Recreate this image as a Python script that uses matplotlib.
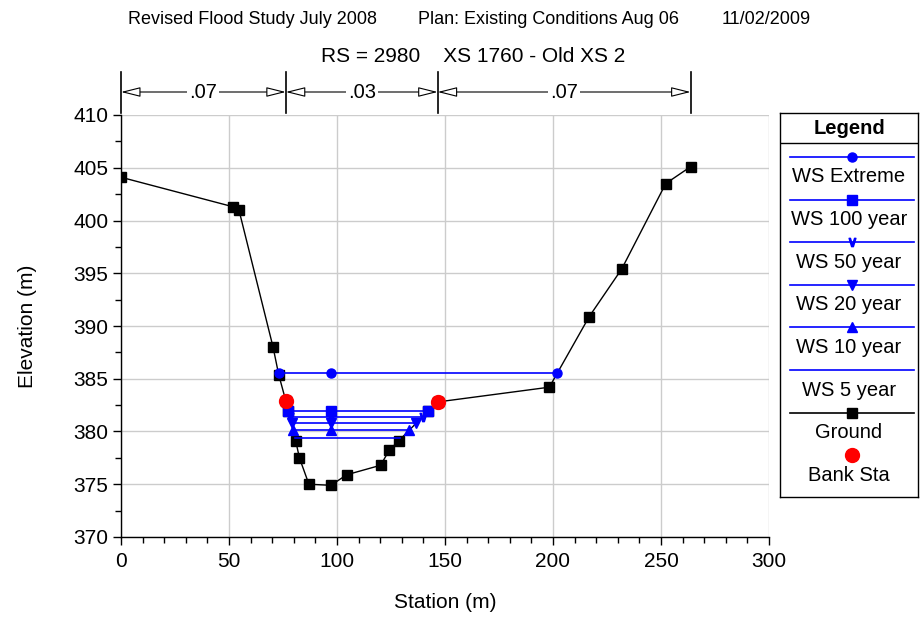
import matplotlib
matplotlib.use("Agg")
import matplotlib.pyplot as plt
from matplotlib.ticker import MultipleLocator
import matplotlib.transforms as mtransforms

plt.rcParams['font.family'] = ['Liberation Sans', 'DejaVu Sans']

# Ground survey points (station, elevation)
ground_sta = [0.0, 51.9, 54.6, 70.4, 73.0, 76.3, 77.5, 80.9, 82.6, 87.0, 97.2,
              104.5, 120.2, 124.1, 128.5, 142.3, 146.6, 198.3, 216.8, 231.8,
              252.2, 263.7]
ground_elev = [404.1, 401.3, 401.0, 388.0, 385.4, 382.9, 381.95, 379.1, 377.5,
               375.0, 374.9, 375.9, 376.8, 378.2, 379.1, 381.95, 382.8, 384.2,
               390.9, 395.4, 403.5, 405.1]

# Bank stations
bank_sta = [76.3, 146.6]
bank_elev = [382.9, 382.75]

# Water surface profiles: elevation, left edge, right edge
ws_names = ["WS Extreme", "WS 100 year", "WS 50 year", "WS 20 year",
            "WS 10 year", "WS 5 year"]
ws_elev = [385.5, 381.95, 381.4, 380.8, 380.1, 379.35]
ws_left = [73.0, 77.5, 78.2, 79.0, 79.6, 80.7]
ws_right = [202.0, 142.3, 139.8, 136.8, 133.3, 129.0]
ws_mid = 97.2
ws_markers = ['o', 's', r'$\vee$', 'v', '^', None]
ws_msize = [6.5, 6.5, 6, 7, 7, 0]

# Manning's n breaks
n_breaks = [0.0, 76.3, 146.6, 263.7]
n_values = [".07", ".03", ".07"]

# Header pieces
header = ["Revised Flood Study July 2008", "Plan: Existing Conditions Aug 06",
          "11/02/2009"]
subtitle = "RS = 2980    XS 1760 - Old XS 2"

W, H = 922, 621
fig = plt.figure(figsize=(W / 100, H / 100), dpi=100)
ax = fig.add_axes([121 / W, 1 - 537 / H, (769 - 121) / W, (537 - 115) / H])

ax.set_xlim(0, 300)
ax.set_ylim(370, 410)
ax.xaxis.set_major_locator(MultipleLocator(50))
ax.xaxis.set_minor_locator(MultipleLocator(10))
ax.yaxis.set_major_locator(MultipleLocator(5))
ax.yaxis.set_minor_locator(MultipleLocator(2.5))
ax.grid(True, which='major', color='#cccccc', linewidth=1)
ax.set_axisbelow(True)
for side in ('top', 'right'):
    ax.spines[side].set_visible(False)
for side in ('left', 'bottom'):
    ax.spines[side].set_linewidth(1)
ax.tick_params(which='major', direction='out', length=6, width=1, labelsize=15)
ax.tick_params(axis='x', which='major', pad=5)
ax.tick_params(axis='y', which='major', pad=3)
ax.tick_params(which='minor', direction='out', length=4, width=1)
ax.set_xlabel("Station (m)", fontsize=15, labelpad=16)
ax.set_ylabel("Elevation (m)", fontsize=15, labelpad=26)

blue = '#0000ff'
for name, e, xl, xr, mk, ms in zip(ws_names, ws_elev, ws_left, ws_right,
                                   ws_markers, ws_msize):
    ax.plot([xl, xr], [e, e], color=blue, lw=1.2, zorder=3)
    if mk is not None:
        ax.plot([xl, ws_mid, xr], [e, e, e], linestyle='none', marker=mk,
                color=blue, markersize=ms, zorder=4)

ax.plot(ground_sta, ground_elev, color='black', lw=1, marker='s',
        markersize=7.5, zorder=2)
ax.plot(bank_sta, bank_elev, linestyle='none', marker='o', color='red',
        markersize=10, zorder=5)

# Manning's n annotation above the plot
trans = mtransforms.blended_transform_factory(ax.transData, ax.transAxes)
y_top, y_bot, y_arr = 1.102, 1.005, 1.0545
for xb in n_breaks:
    ax.plot([xb, xb], [y_bot, y_top], color='black', lw=1.2, transform=trans,
            clip_on=False)
for i, val in enumerate(n_values):
    x0, x1 = n_breaks[i], n_breaks[i + 1]
    ax.annotate("", xy=(x0, y_arr), xytext=(x1, y_arr), xycoords=trans,
                textcoords=trans,
                arrowprops=dict(arrowstyle='<|-|>,head_length=1.0,head_width=0.25',
                                facecolor='white', edgecolor='black', lw=0.8,
                                shrinkA=0, shrinkB=0, mutation_scale=12))
    ax.text((x0 + x1) / 2, y_arr, val, transform=trans, ha='center',
            va='center', fontsize=14.5,
            bbox=dict(facecolor='white', edgecolor='none', pad=1.5))

for xp, txt in zip([128, 418, 722], header):
    fig.text(xp / W, 1 - 19 / H, txt, ha='left', va='center', fontsize=13)
fig.text(473 / W, 1 - 57 / H, subtitle, ha='center', va='center', fontsize=15)

# Legend panel, laid out in pixel units
lx0, lx1, ly0, ly1 = 780, 918, 113, 497
lax = fig.add_axes([lx0 / W, 1 - ly1 / H, (lx1 - lx0) / W, (ly1 - ly0) / H])
lax.set_xlim(lx0, lx1)
lax.set_ylim(ly1, ly0)
lax.set_xticks([])
lax.set_yticks([])
for s in lax.spines.values():
    s.set_linewidth(1)
lax.text((lx0 + lx1) / 2, 128, "Legend", ha='center', va='center',
         fontsize=14.5, fontweight='bold')
lax.plot([lx0, lx1], [143, 143], color='black', lw=1)

line_x0, line_x1, mx = 790, 914, 851.7
row0, step = 157, 42.6
entries = list(zip(ws_names, [blue] * 6, ws_markers, ws_msize))
entries += [("Ground", 'black', 's', 7.5)]
for i, (name, col, mk, ms) in enumerate(entries):
    yl = row0 + i * step
    lax.plot([line_x0, line_x1], [yl, yl], color=col, lw=1.2)
    if mk is not None:
        lax.plot([mx], [yl], marker=mk, color=col, markersize=ms,
                 linestyle='none')
    lax.text((lx0 + lx1) / 2, yl + 20, name, ha='center', va='center',
             fontsize=14.5)
yb = row0 + 7 * step
lax.plot([mx], [yb], marker='o', color='red', markersize=10, linestyle='none')
lax.text((lx0 + lx1) / 2, yb + 20, "Bank Sta", ha='center', va='center',
         fontsize=14.5)

fig.savefig("out.png", dpi=100)
